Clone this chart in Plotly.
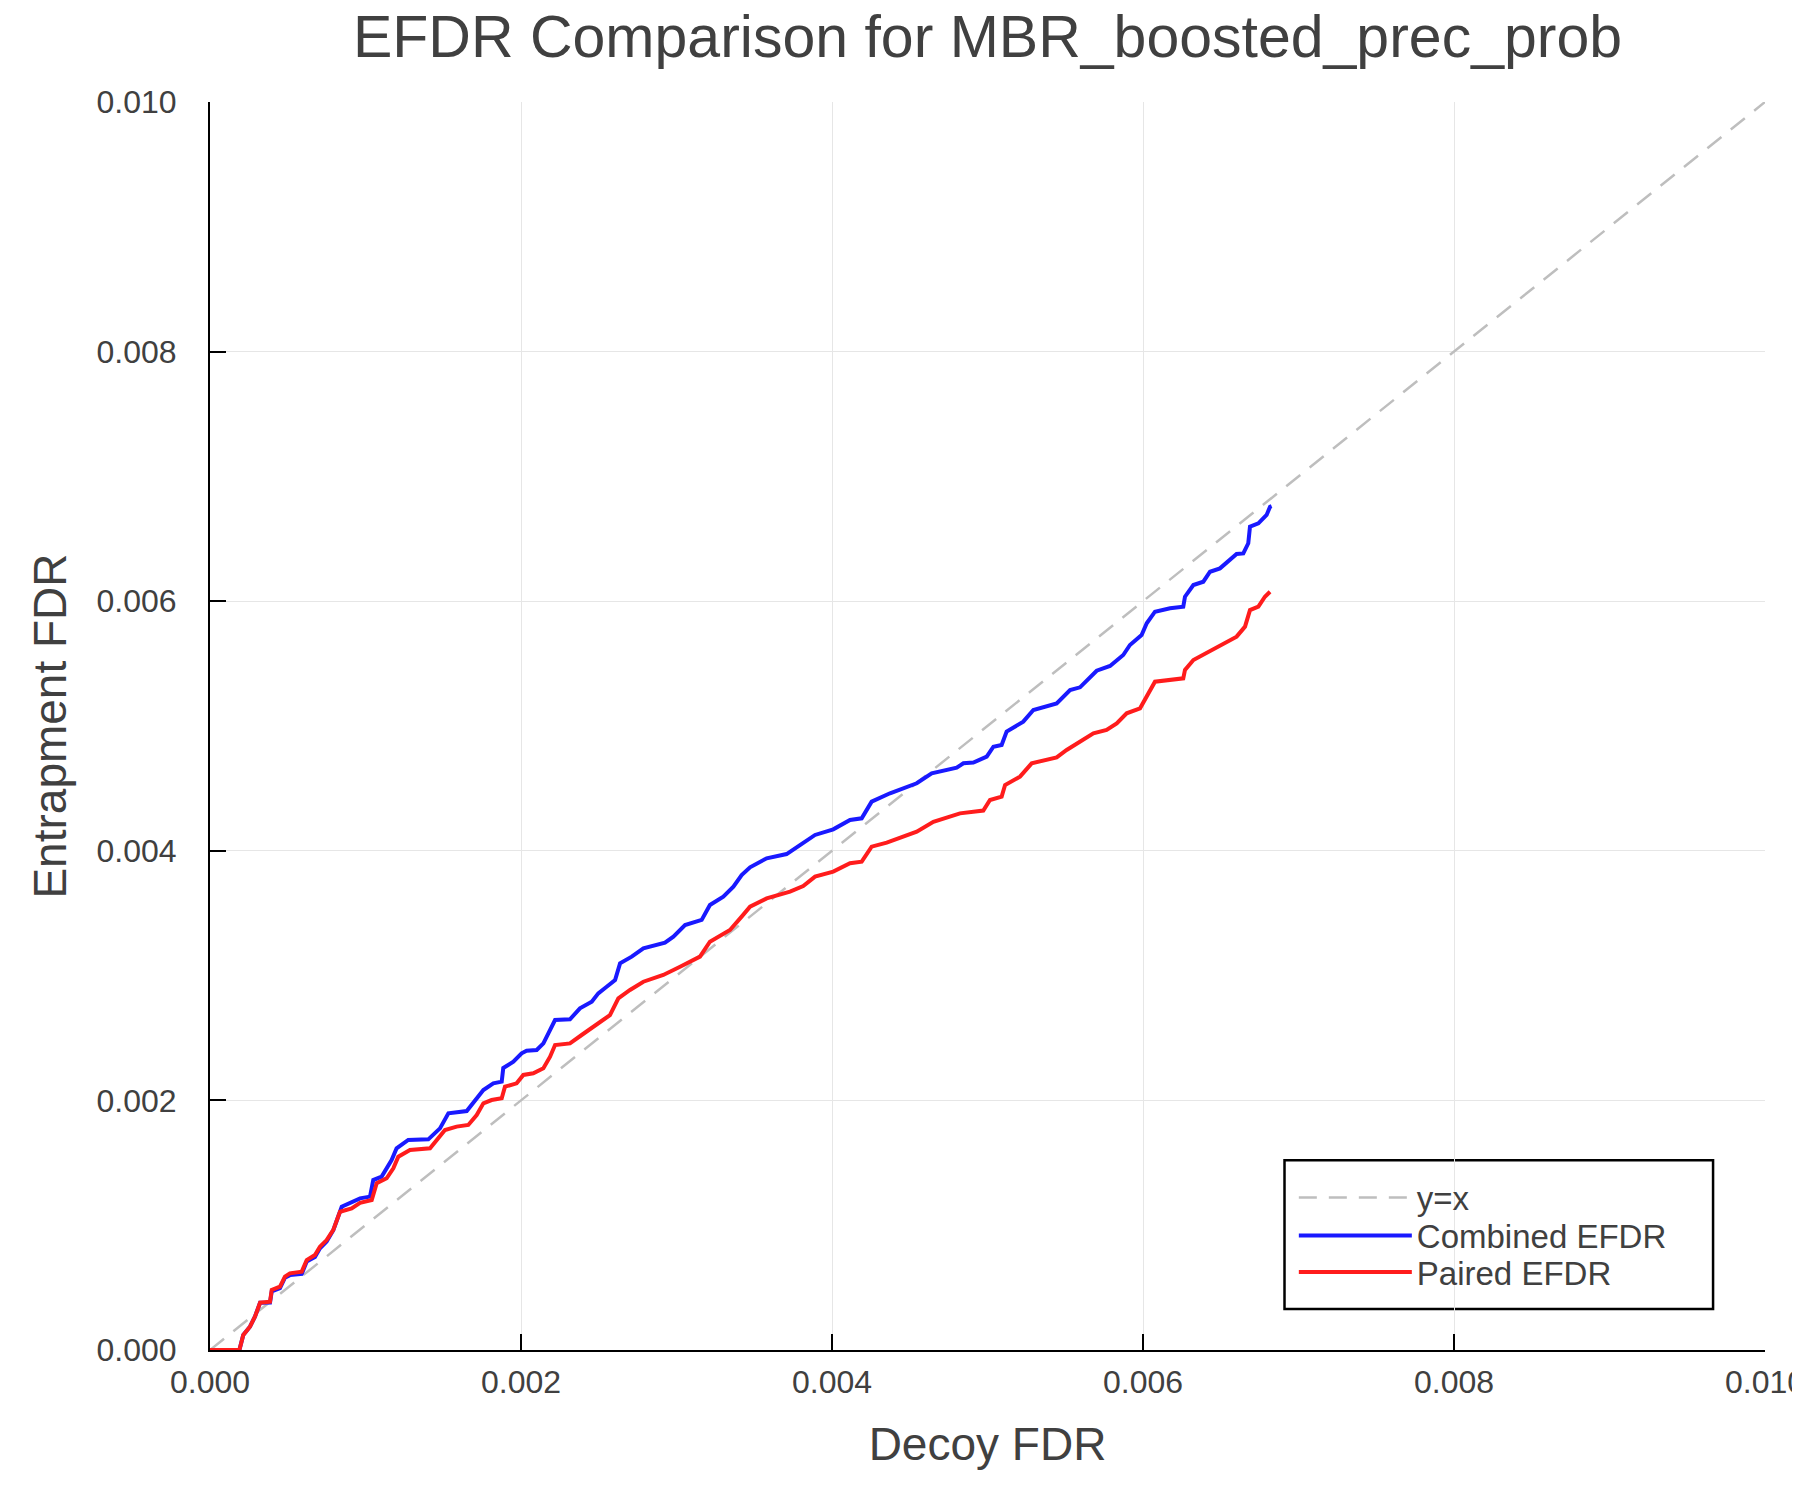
import plotly.graph_objects as go

# y = x reference
ref_x = [0.0, 0.010]
ref_y = [0.0, 0.010]

# Combined EFDR (blue)
combined_x = [
    0.0, 0.000189, 0.000214, 0.000257, 0.000289, 0.000322, 0.000386, 0.000397, 0.000450, 0.000482,
    0.000514, 0.000590, 0.000622, 0.000675, 0.000707, 0.000750, 0.000793, 0.000836, 0.000847, 0.000965,
    0.001029, 0.001050, 0.001104, 0.001168, 0.001200, 0.001275, 0.001404, 0.001479, 0.001533, 0.001651,
    0.001715, 0.001758, 0.001822, 0.001876, 0.001886, 0.001951, 0.002004, 0.002036, 0.002101, 0.002144,
    0.002176, 0.002219, 0.002315, 0.002379, 0.002455, 0.002497, 0.002551, 0.002605, 0.002637, 0.002712,
    0.002787, 0.002926, 0.002980, 0.003055, 0.003162, 0.003215, 0.003301, 0.003366, 0.003419, 0.003473,
    0.003580, 0.003708, 0.003794, 0.003891, 0.004008, 0.004116, 0.004191, 0.004255, 0.004373, 0.004545,
    0.004641, 0.004802, 0.004845, 0.004909, 0.004995, 0.005038, 0.005091, 0.005123, 0.005230, 0.005295,
    0.005445, 0.005531, 0.005595, 0.005702, 0.005788, 0.005873, 0.005916, 0.005991, 0.006024, 0.006077,
    0.006174, 0.006259, 0.006270, 0.006324, 0.006388, 0.006431, 0.006495, 0.006570, 0.006602, 0.006645,
    0.006677, 0.006688, 0.006742, 0.006795, 0.006817, 0.006827,
]
combined_y = [
    0.0, 0.0, 0.000120, 0.000187, 0.000267, 0.000379, 0.000380, 0.000470, 0.000495, 0.000580,
    0.000600, 0.000610, 0.000710, 0.000745, 0.000815, 0.000870, 0.000960, 0.001120, 0.001148, 0.001215,
    0.001229, 0.001362, 0.001389, 0.001522, 0.001616, 0.001683, 0.001688, 0.001776, 0.001897, 0.001915,
    0.002017, 0.002083, 0.002137, 0.002150, 0.002260, 0.002310, 0.002377, 0.002398, 0.002404, 0.002457,
    0.002537, 0.002644, 0.002650, 0.002738, 0.002791, 0.002858, 0.002911, 0.002965, 0.003098, 0.003152,
    0.003218, 0.003264, 0.003312, 0.003405, 0.003446, 0.003566, 0.003633, 0.003713, 0.003806, 0.003868,
    0.003940, 0.003974, 0.004046, 0.004127, 0.004172, 0.004247, 0.004260, 0.004394, 0.004461, 0.004541,
    0.004621, 0.004666, 0.004701, 0.004707, 0.004754, 0.004834, 0.004848, 0.004955, 0.005035, 0.005128,
    0.005181, 0.005288, 0.005310, 0.005443, 0.005481, 0.005569, 0.005649, 0.005729, 0.005823, 0.005916,
    0.005943, 0.005956, 0.006036, 0.006130, 0.006156, 0.006236, 0.006263, 0.006343, 0.006378, 0.006383,
    0.006464, 0.006597, 0.006624, 0.006691, 0.006757, 0.006762,
]

# Paired EFDR (red)
paired_x = [
    0.0, 0.000189, 0.000214, 0.000257, 0.000289, 0.000322, 0.000386, 0.000397, 0.000450, 0.000482,
    0.000514, 0.000590, 0.000622, 0.000675, 0.000707, 0.000750, 0.000793, 0.000836, 0.000911, 0.000965,
    0.001040, 0.001072, 0.001136, 0.001179, 0.001211, 0.001286, 0.001415, 0.001511, 0.001586, 0.001661,
    0.001715, 0.001758, 0.001811, 0.001876, 0.001897, 0.001972, 0.002015, 0.002079, 0.002144, 0.002187,
    0.002219, 0.002315, 0.002390, 0.002465, 0.002572, 0.002626, 0.002701, 0.002787, 0.002915, 0.003023,
    0.003151, 0.003215, 0.003344, 0.003419, 0.003473, 0.003580, 0.003730, 0.003815, 0.003891, 0.004008,
    0.004116, 0.004191, 0.004255, 0.004352, 0.004545, 0.004652, 0.004823, 0.004973, 0.005016, 0.005091,
    0.005113, 0.005209, 0.005284, 0.005445, 0.005509, 0.005681, 0.005766, 0.005831, 0.005895, 0.005981,
    0.006034, 0.006077, 0.006259, 0.006270, 0.006324, 0.006420, 0.006517, 0.006602, 0.006656, 0.006688,
    0.006742, 0.006784, 0.006817,
]
paired_y = [
    0.0, 0.0, 0.000120, 0.000187, 0.000267, 0.000379, 0.000387, 0.000481, 0.000507, 0.000588,
    0.000614, 0.000628, 0.000721, 0.000761, 0.000828, 0.000881, 0.000962, 0.001108, 0.001135, 0.001180,
    0.001202, 0.001336, 0.001376, 0.001456, 0.001549, 0.001603, 0.001616, 0.001763, 0.001790, 0.001803,
    0.001883, 0.001977, 0.002003, 0.002017, 0.002110, 0.002137, 0.002204, 0.002217, 0.002257, 0.002350,
    0.002444, 0.002457, 0.002524, 0.002591, 0.002684, 0.002818, 0.002885, 0.002951, 0.003005, 0.003071,
    0.003152, 0.003272, 0.003365, 0.003472, 0.003552, 0.003619, 0.003673, 0.003718, 0.003793, 0.003833,
    0.003900, 0.003913, 0.004033, 0.004065, 0.004153, 0.004233, 0.004300, 0.004322, 0.004407, 0.004434,
    0.004527, 0.004594, 0.004701, 0.004749, 0.004808, 0.004941, 0.004968, 0.005021, 0.005102, 0.005142,
    0.005262, 0.005355, 0.005382, 0.005449, 0.005529, 0.005595, 0.005663, 0.005716, 0.005796, 0.005929,
    0.005956, 0.006036, 0.006076,
]

tick_vals = [0.0, 0.002, 0.004, 0.006, 0.008, 0.010]
tick_text = ["0.000", "0.002", "0.004", "0.006", "0.008", "0.010"]

FONT = "Liberation Sans, Arial, Helvetica, sans-serif"
TEXT = "#404040"

fig = go.Figure()
fig.add_trace(go.Scatter(
    x=ref_x, y=ref_y, mode="lines", name="y=x", legend="legend",
    line=dict(color="rgb(190,190,190)", width=2.5, dash="18px,12px"),
))
fig.add_trace(go.Scatter(
    x=combined_x, y=combined_y, mode="lines", name="Combined EFDR", legend="legend2",
    line=dict(color="rgb(25,25,255)", width=4),
))
fig.add_trace(go.Scatter(
    x=paired_x, y=paired_y, mode="lines", name="Paired EFDR", legend="legend3",
    line=dict(color="rgb(255,28,28)", width=4),
))

axis_common = dict(
    range=[0, 0.010],
    tickvals=tick_vals,
    ticktext=tick_text,
    ticks="inside",
    ticklen=16,
    tickwidth=2,
    tickcolor="black",
    showline=True,
    linecolor="black",
    linewidth=2,
    mirror=False,
    showgrid=True,
    gridcolor="rgb(230,230,230)",
    gridwidth=1,
    zeroline=False,
    ticklabeloverflow="allow",
    tickfont=dict(family=FONT, size=32, color=TEXT),
)

fig.update_xaxes(
    **axis_common,
    ticklabelstandoff=3,
    title=dict(text="Decoy FDR", font=dict(family=FONT, size=46, color=TEXT), standoff=28),
)
fig.update_yaxes(
    **axis_common,
    ticklabelstandoff=25,
    title=dict(text="Entrapment FDR", font=dict(family=FONT, size=46, color=TEXT), standoff=15),
)

# legend frame
fig.add_shape(
    type="rect", xref="paper", yref="paper",
    x0=0.691, x1=0.9666, y0=0.0329, y1=0.152,
    line=dict(color="black", width=2.5), fillcolor="white", layer="below",
)

legend_common = dict(
    x=0.697, xanchor="left", yanchor="middle",
    bgcolor="rgba(0,0,0,0)", borderwidth=0,
    font=dict(family=FONT, size=33, color=TEXT),
    itemwidth=113,
)

fig.update_layout(
    width=1800,
    height=1500,
    paper_bgcolor="white",
    plot_bgcolor="white",
    margin=dict(l=202, r=43, t=94, b=158, autoexpand=False),
    title=dict(
        text="EFDR Comparison for MBR_boosted_prec_prob",
        font=dict(family=FONT, size=59, color=TEXT),
        x=0.5, xref="paper", xanchor="center",
        y=0.981, yref="container", yanchor="middle",
    ),
    legend=dict(y=0.1222, **legend_common),
    legend2=dict(y=0.0918, **legend_common),
    legend3=dict(y=0.0625, **legend_common),
    showlegend=True,
)

fig.write_html("out.html")
